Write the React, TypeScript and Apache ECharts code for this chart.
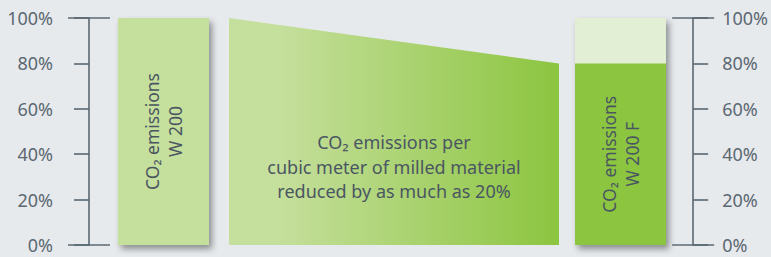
import React, { useEffect, useRef } from "react";
import * as echarts from "echarts";

// ---- data ----
const BAR_LABELS = ["CO₂ emissions\nW 200", "CO₂ emissions\nW 200 F"];
const MIDDLE_LABEL = "CO₂ emissions per\ncubic meter of milled material\nreduced by as much as 20%";
const EMISSIONS = [100, 80]; // W 200, W 200 F (% of W 200)
const Y_MIN = 0;
const Y_MAX = 100;
const Y_STEP = 20;
const AXIS_END_TICKS = [0, 100];

// ---- layout (pixels from grid left) ----
const SLOT_LEFT_BAR = [29, 120];
const SLOT_TRAPEZOID = [140, 470];
const SLOT_RIGHT_BAR = [486, 577];
const LONG_TICK_HALF = 21;

// ---- styles ----
const BG = "#e7eaed";
const AXIS_COLOR = "#5b6872";
const TEXT_COLOR = "#4a5662";
const LIGHT_GREEN = "#c5df9c";
const DARK_GREEN = "#8cc540";
const PALE_GREEN = "#e2efd5";
const FONT = "'Noto Sans', Lato, sans-serif";

export default function App() {
  const ref = useRef<HTMLDivElement>(null);
  useEffect(() => {
    if (!ref.current) return;
    const chart = echarts.init(ref.current, undefined, { renderer: "svg" });

    const shadow = {
      shadowBlur: 6,
      shadowOffsetX: 3,
      shadowOffsetY: 4,
      shadowColor: "rgba(0,0,0,0.4)",
    };

    const yAxisBase = (position: "left" | "right", margin: number) => ({
      type: "value",
      position,
      min: Y_MIN,
      max: Y_MAX,
      interval: Y_STEP,
      splitLine: { show: false },
      axisLine: { show: true, lineStyle: { color: AXIS_COLOR, width: 1.6 } },
      axisTick: { show: true, length: 15, inside: false, lineStyle: { color: AXIS_COLOR, width: 1.6 } },
      axisLabel: {
        formatter: "{value}%",
        margin,
        color: AXIS_COLOR,
        fontSize: 18,
        fontFamily: FONT,
      },
    });

    const option: any = {
      animation: false,
      backgroundColor: BG,
      grid: { left: 89, right: 76, top: 18, bottom: 12, containLabel: false },
      xAxis: { type: "value", min: 0, max: 1, show: false },
      yAxis: [yAxisBase("left", 36), yAxisBase("right", 29)],
      series: [
        {
          type: "custom",
          coordinateSystem: "cartesian2d",
          data: EMISSIONS.map((v, i) => [i, v]),
          renderItem: (params: any, api: any) => {
            const cs = params.coordSys;
            const idx = params.dataIndex;
            const yOf = (v: number) => api.coord([0, v])[1];
            const y0 = yOf(Y_MIN);
            const children: any[] = [];
            const textStyle = (text: string, size: number, lh: number) => ({
              text,
              fill: TEXT_COLOR,
              font: `${size}px ${FONT}`,
              align: "center",
              verticalAlign: "middle",
              lineHeight: lh,
            });
            if (idx === 0) {
              const v = api.value(1);
              const x0 = cs.x + SLOT_LEFT_BAR[0];
              const x1 = cs.x + SLOT_LEFT_BAR[1];
              const yt = yOf(v);
              children.push({
                type: "rect",
                shape: { x: x0, y: yt, width: x1 - x0, height: y0 - yt },
                style: { fill: LIGHT_GREEN, ...shadow },
              });
              children.push({
                type: "text",
                x: (x0 + x1) / 2,
                y: (yt + y0) / 2,
                rotation: Math.PI / 2,
                style: textStyle(BAR_LABELS[0], 17.5, 23),
              });
            } else {
              const v = api.value(1);
              const base = EMISSIONS[0];
              // trapezoid
              const tx0 = cs.x + SLOT_TRAPEZOID[0];
              const tx1 = cs.x + SLOT_TRAPEZOID[1];
              children.push({
                type: "polygon",
                shape: {
                  points: [
                    [tx0, yOf(base)],
                    [tx1, yOf(v)],
                    [tx1, y0],
                    [tx0, y0],
                  ],
                },
                style: {
                  fill: new echarts.graphic.LinearGradient(0, 0, 1, 0, [
                    { offset: 0, color: LIGHT_GREEN },
                    { offset: 0.15, color: LIGHT_GREEN },
                    { offset: 1, color: DARK_GREEN },
                  ]),
                },
              });
              children.push({
                type: "text",
                x: (tx0 + tx1) / 2,
                y: yOf(34.5),
                style: textStyle(MIDDLE_LABEL, 18, 24.5),
              });
              // right bar
              const x0 = cs.x + SLOT_RIGHT_BAR[0];
              const x1 = cs.x + SLOT_RIGHT_BAR[1];
              const yb = yOf(base);
              const yt = yOf(v);
              children.push({
                type: "rect",
                shape: { x: x0, y: yb, width: x1 - x0, height: y0 - yb },
                style: { fill: PALE_GREEN, ...shadow },
              });
              children.push({
                type: "rect",
                shape: { x: x0, y: yt, width: x1 - x0, height: y0 - yt },
                style: { fill: DARK_GREEN },
              });
              children.push({
                type: "text",
                x: (x0 + x1) / 2,
                y: (yt + y0) / 2,
                rotation: Math.PI / 2,
                style: textStyle(BAR_LABELS[1], 17.5, 23),
              });
            }
            return { type: "group", children };
          },
        },
        {
          type: "custom",
          coordinateSystem: "cartesian2d",
          data: AXIS_END_TICKS.map((v) => [0, v]),
          renderItem: (params: any, api: any) => {
            const cs = params.coordSys;
            const y = api.coord([0, api.value(1)])[1];
            const lineStyle = { stroke: AXIS_COLOR, lineWidth: 1.6 };
            return {
              type: "group",
              children: [cs.x, cs.x + cs.width].map((xc: number) => ({
                type: "line",
                shape: { x1: xc - LONG_TICK_HALF, y1: y, x2: xc + LONG_TICK_HALF, y2: y },
                style: lineStyle,
              })),
            };
          },
        },
      ],
    };

    chart.setOption(option);
    return () => chart.dispose();
  }, []);

  return (
    <div
      ref={ref}
      style={{ position: "fixed", left: 0, top: 0, width: 771, height: 257, background: BG }}
    />
  );
}
